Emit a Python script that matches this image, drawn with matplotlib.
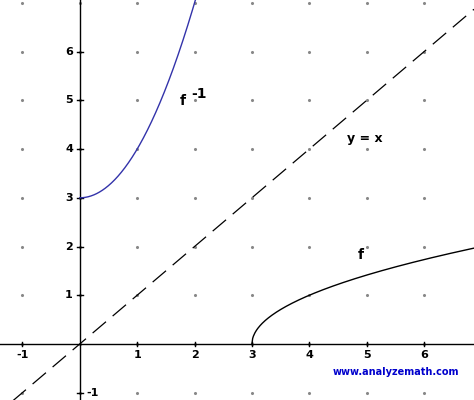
import numpy as np
import matplotlib.pyplot as plt

x_ticks = [-1, 1, 2, 3, 4, 5, 6]
y_ticks = [-1, 1, 2, 3, 4, 5, 6]

fig = plt.figure(figsize=(4.74, 4.0), dpi=100)
ax = fig.add_axes([0, 0, 1, 1])
ax.set_xlim(-1.39, 6.87)
ax.set_ylim(-1.15, 7.06)
ax.axis('off')

# grid dots
gx, gy = np.meshgrid(range(-1, 7), range(-1, 8))
ax.scatter(gx.ravel(), gy.ravel(), s=1.5, color='#888888', zorder=1)

# axes
ax.axhline(0, color='black', lw=1)
ax.axvline(0, color='black', lw=1)
for t in x_ticks:
    ax.plot([t, t], [-0.05, 0.05], color='black', lw=1)
    ax.text(t, -0.22, str(t), ha='center', va='center', fontsize=8, fontweight='bold')
for t in y_ticks:
    ax.plot([-0.05, 0.05], [t, t], color='black', lw=1)
    ax.text(0.12 if t < 0 else -0.12, t, str(t), ha='left' if t < 0 else 'right',
            va='center', fontsize=8, fontweight='bold')

# y = x
xl = np.array([-1.39, 6.87])
ax.plot(xl, xl, color='black', lw=0.9, dashes=(14, 7))

# f(x) = sqrt(x - 3)
xf = np.linspace(3, 6.87, 300)
ax.plot(xf, np.sqrt(xf - 3), color='black', lw=1)

# f^-1(x) = x^2 + 3
xi = np.linspace(0, 2.1, 300)
ax.plot(xi, xi ** 2 + 3, color='#3333aa', lw=1)

ax.text(1.75, 4.9, 'f', fontsize=10, fontweight='bold')
ax.text(1.95, 5.05, '-1', fontsize=10, fontweight='bold')
ax.text(4.65, 4.15, 'y = x', fontsize=9, fontweight='bold')
ax.text(4.85, 1.75, 'f', fontsize=10, fontweight='bold')
ax.text(4.4, -0.63, 'www.analyzemath.com', fontsize=7, fontweight='bold', color='#0000cc')

fig.savefig('out.png', dpi=100)
